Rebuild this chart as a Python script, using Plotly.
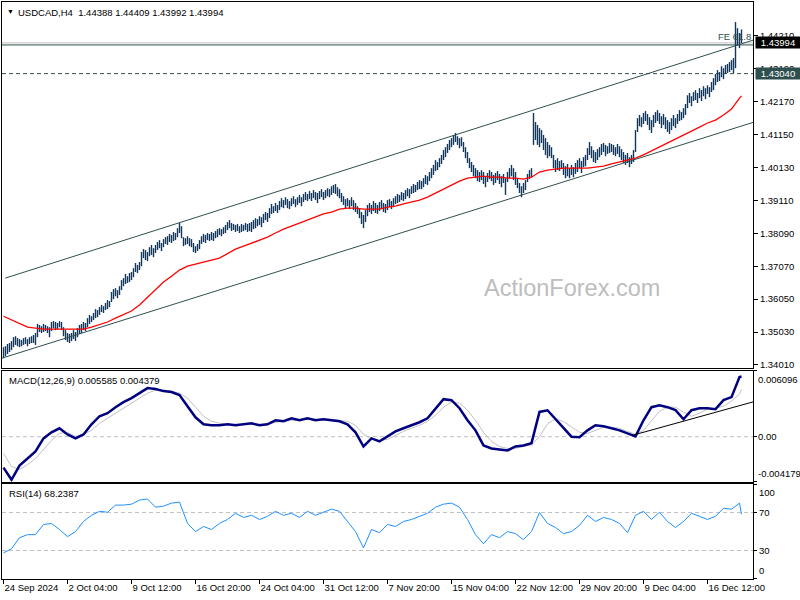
import plotly.graph_objects as go

# ---------------- data ----------------
highs = [
    1.3456, 1.3459, 1.3466, 1.3469, 1.3475, 1.3487, 1.3490, 1.3484, 1.3481, 1.3478,
    1.3484, 1.3487, 1.3481, 1.3487, 1.3490, 1.3494, 1.3500, 1.3528, 1.3525, 1.3521,
    1.3528, 1.3525, 1.3521, 1.3518, 1.3534, 1.3537, 1.3534, 1.3531, 1.3537, 1.3534,
    1.3518, 1.3509, 1.3500, 1.3497, 1.3500, 1.3509, 1.3503, 1.3515, 1.3525, 1.3528,
    1.3534, 1.3531, 1.3546, 1.3556, 1.3552, 1.3562, 1.3574, 1.3571, 1.3580, 1.3587,
    1.3583, 1.3593, 1.3602, 1.3599, 1.3627, 1.3636, 1.3639, 1.3633, 1.3645, 1.3664,
    1.3670, 1.3683, 1.3676, 1.3686, 1.3689, 1.3701, 1.3717, 1.3711, 1.3720, 1.3751,
    1.3760, 1.3757, 1.3751, 1.3766, 1.3773, 1.3763, 1.3773, 1.3782, 1.3788, 1.3779,
    1.3791, 1.3797, 1.3800, 1.3807, 1.3804, 1.3813, 1.3810, 1.3825, 1.3841, 1.3831,
    1.3797, 1.3794, 1.3800, 1.3794, 1.3791, 1.3779, 1.3769, 1.3776, 1.3788, 1.3800,
    1.3807, 1.3804, 1.3810, 1.3807, 1.3813, 1.3810, 1.3816, 1.3822, 1.3825, 1.3822,
    1.3828, 1.3835, 1.3844, 1.3850, 1.3841, 1.3838, 1.3835, 1.3838, 1.3831, 1.3838,
    1.3835, 1.3841, 1.3838, 1.3841, 1.3844, 1.3850, 1.3856, 1.3853, 1.3862, 1.3859,
    1.3869, 1.3875, 1.3872, 1.3887, 1.3900, 1.3893, 1.3903, 1.3897, 1.3909, 1.3918,
    1.3912, 1.3921, 1.3915, 1.3909, 1.3918, 1.3924, 1.3915, 1.3921, 1.3928, 1.3921,
    1.3931, 1.3937, 1.3931, 1.3940, 1.3934, 1.3943, 1.3937, 1.3934, 1.3940, 1.3946,
    1.3937, 1.3943, 1.3949, 1.3946, 1.3955, 1.3959, 1.3962, 1.3952, 1.3946, 1.3934,
    1.3924, 1.3915, 1.3918, 1.3912, 1.3921, 1.3912, 1.3903, 1.3893, 1.3887, 1.3875,
    1.3866, 1.3881, 1.3897, 1.3903, 1.3897, 1.3909, 1.3903, 1.3897, 1.3906, 1.3912,
    1.3903, 1.3900, 1.3912, 1.3915, 1.3909, 1.3918, 1.3924, 1.3931, 1.3928, 1.3937,
    1.3934, 1.3943, 1.3949, 1.3946, 1.3955, 1.3962, 1.3959, 1.3968, 1.3974, 1.3971,
    1.3980, 1.3990, 1.3986, 1.3999, 1.4011, 1.4021, 1.4036, 1.4030, 1.4042, 1.4052,
    1.4067, 1.4076, 1.4086, 1.4098, 1.4104, 1.4114, 1.4120, 1.4110, 1.4104, 1.4107,
    1.4092, 1.4076, 1.4061, 1.4042, 1.4030, 1.4021, 1.4011, 1.4005, 1.3999, 1.4005,
    1.3999, 1.3986, 1.3996, 1.4005, 1.3999, 1.3990, 1.3996, 1.4002, 1.3993, 1.3986,
    1.3993, 1.3980, 1.3999, 1.4011, 1.4021, 1.4011, 1.3999, 1.3980, 1.3965, 1.3955,
    1.3965, 1.3974, 1.3993, 1.4005, 1.4011, 1.4182, 1.4154, 1.4145, 1.4135, 1.4129,
    1.4114, 1.4104, 1.4092, 1.4083, 1.4076, 1.4052, 1.4036, 1.4042, 1.4033, 1.4036,
    1.4027, 1.4017, 1.4024, 1.4011, 1.4021, 1.4014, 1.4027, 1.4036, 1.4042, 1.4033,
    1.4045, 1.4052, 1.4073, 1.4092, 1.4079, 1.4067, 1.4061, 1.4070, 1.4076, 1.4086,
    1.4089, 1.4083, 1.4079, 1.4089, 1.4086, 1.4083, 1.4076, 1.4086, 1.4079, 1.4070,
    1.4061, 1.4052, 1.4058, 1.4045, 1.4052, 1.4067, 1.4129, 1.4166, 1.4176, 1.4169,
    1.4182, 1.4188, 1.4179, 1.4169, 1.4160, 1.4176, 1.4185, 1.4191, 1.4182, 1.4172,
    1.4179, 1.4169, 1.4160, 1.4154, 1.4166, 1.4176, 1.4166, 1.4179, 1.4191, 1.4185,
    1.4197, 1.4210, 1.4237, 1.4244, 1.4234, 1.4247, 1.4253, 1.4244, 1.4259, 1.4253,
    1.4265, 1.4259, 1.4268, 1.4262, 1.4278, 1.4290, 1.4303, 1.4315, 1.4309, 1.4327,
    1.4321, 1.4331, 1.4334, 1.4340, 1.4346, 1.4352, 1.4464, 1.4445, 1.4430, 1.44409,
]
lows = [
    1.3422, 1.3428, 1.3435, 1.3441, 1.3447, 1.3456, 1.3463, 1.3459, 1.3456, 1.3459,
    1.3463, 1.3466, 1.3459, 1.3466, 1.3469, 1.3469, 1.3463, 1.3487, 1.3503, 1.3500,
    1.3503, 1.3506, 1.3500, 1.3487, 1.3506, 1.3515, 1.3509, 1.3512, 1.3518, 1.3509,
    1.3490, 1.3478, 1.3472, 1.3469, 1.3475, 1.3481, 1.3475, 1.3487, 1.3497, 1.3500,
    1.3509, 1.3506, 1.3518, 1.3528, 1.3534, 1.3540, 1.3546, 1.3549, 1.3556, 1.3565,
    1.3562, 1.3571, 1.3574, 1.3580, 1.3596, 1.3605, 1.3614, 1.3608, 1.3618, 1.3633,
    1.3645, 1.3652, 1.3655, 1.3658, 1.3664, 1.3673, 1.3689, 1.3686, 1.3695, 1.3707,
    1.3732, 1.3726, 1.3723, 1.3738, 1.3742, 1.3735, 1.3748, 1.3757, 1.3763, 1.3754,
    1.3766, 1.3776, 1.3773, 1.3782, 1.3779, 1.3785, 1.3788, 1.3797, 1.3810, 1.3794,
    1.3769, 1.3773, 1.3776, 1.3769, 1.3766, 1.3751, 1.3748, 1.3754, 1.3760, 1.3776,
    1.3782, 1.3779, 1.3788, 1.3785, 1.3788, 1.3785, 1.3794, 1.3797, 1.3804, 1.3800,
    1.3807, 1.3810, 1.3819, 1.3825, 1.3816, 1.3819, 1.3813, 1.3816, 1.3810, 1.3813,
    1.3816, 1.3819, 1.3813, 1.3816, 1.3813, 1.3822, 1.3825, 1.3831, 1.3835, 1.3828,
    1.3841, 1.3850, 1.3844, 1.3856, 1.3869, 1.3872, 1.3878, 1.3872, 1.3881, 1.3890,
    1.3887, 1.3897, 1.3887, 1.3884, 1.3893, 1.3900, 1.3890, 1.3897, 1.3903, 1.3893,
    1.3906, 1.3912, 1.3909, 1.3915, 1.3909, 1.3918, 1.3912, 1.3903, 1.3915, 1.3921,
    1.3912, 1.3918, 1.3924, 1.3921, 1.3928, 1.3934, 1.3931, 1.3924, 1.3918, 1.3906,
    1.3897, 1.3887, 1.3893, 1.3884, 1.3893, 1.3881, 1.3875, 1.3869, 1.3856, 1.3838,
    1.3825, 1.3844, 1.3862, 1.3875, 1.3869, 1.3878, 1.3872, 1.3869, 1.3878, 1.3884,
    1.3875, 1.3872, 1.3881, 1.3890, 1.3884, 1.3890, 1.3900, 1.3903, 1.3906, 1.3912,
    1.3909, 1.3915, 1.3924, 1.3918, 1.3931, 1.3934, 1.3937, 1.3943, 1.3946, 1.3946,
    1.3952, 1.3962, 1.3959, 1.3971, 1.3980, 1.3990, 1.4002, 1.4005, 1.4014, 1.4024,
    1.4036, 1.4045, 1.4058, 1.4067, 1.4076, 1.4083, 1.4092, 1.4083, 1.4073, 1.4079,
    1.4061, 1.4042, 1.4027, 1.4011, 1.3999, 1.3986, 1.3980, 1.3971, 1.3968, 1.3974,
    1.3962, 1.3952, 1.3968, 1.3977, 1.3971, 1.3959, 1.3965, 1.3974, 1.3962, 1.3952,
    1.3965, 1.3928, 1.3968, 1.3980, 1.3986, 1.3974, 1.3959, 1.3949, 1.3934, 1.3921,
    1.3934, 1.3943, 1.3968, 1.3977, 1.3983, 1.4083, 1.4098, 1.4083, 1.4076, 1.4089,
    1.4067, 1.4052, 1.4042, 1.4048, 1.4042, 1.4011, 1.3999, 1.4005, 1.4002, 1.4008,
    1.3990, 1.3980, 1.3986, 1.3980, 1.3990, 1.3983, 1.3993, 1.3999, 1.4011, 1.3996,
    1.4014, 1.4017, 1.4036, 1.4052, 1.4042, 1.4030, 1.4027, 1.4036, 1.4045, 1.4052,
    1.4061, 1.4048, 1.4055, 1.4058, 1.4061, 1.4052, 1.4048, 1.4055, 1.4045, 1.4036,
    1.4027, 1.4021, 1.4027, 1.4014, 1.4024, 1.4030, 1.4061, 1.4123, 1.4141, 1.4138,
    1.4148, 1.4157, 1.4145, 1.4129, 1.4120, 1.4138, 1.4151, 1.4157, 1.4148, 1.4135,
    1.4145, 1.4132, 1.4123, 1.4117, 1.4129, 1.4141, 1.4135, 1.4148, 1.4157, 1.4160,
    1.4166, 1.4176, 1.4197, 1.4213, 1.4203, 1.4219, 1.4222, 1.4213, 1.4228, 1.4219,
    1.4234, 1.4225, 1.4241, 1.4231, 1.4247, 1.4253, 1.4268, 1.4278, 1.4281, 1.4293,
    1.4287, 1.4303, 1.4306, 1.4309, 1.4315, 1.4306, 1.4321, 1.4392, 1.4383, 1.43992,
]

# indicator readings, one every 4 bars plus the last bar
ind_idx = list(range(0, 369, 4)) + [369]
ma_vals = [
    1.3552, 1.3540, 1.3528, 1.3518, 1.3515, 1.3512, 1.3512, 1.3512, 1.3512, 1.3512,
    1.3512, 1.3518, 1.3525, 1.3534, 1.3546, 1.3556, 1.3568, 1.3587, 1.3611, 1.3636,
    1.3658, 1.3676, 1.3695, 1.3707, 1.3714, 1.3720, 1.3726, 1.3732, 1.3745, 1.3760,
    1.3769, 1.3779, 1.3788, 1.3797, 1.3810, 1.3822, 1.3831, 1.3841, 1.3850, 1.3859,
    1.3869, 1.3875, 1.3884, 1.3887, 1.3887, 1.3884, 1.3884, 1.3884, 1.3890, 1.3893,
    1.3900, 1.3906, 1.3912, 1.3921, 1.3934, 1.3946, 1.3959, 1.3971, 1.3980, 1.3983,
    1.3986, 1.3983, 1.3983, 1.3980, 1.3980, 1.3977, 1.3983, 1.3999, 1.4005, 1.4008,
    1.4011, 1.4011, 1.4011, 1.4011, 1.4014, 1.4017, 1.4024, 1.4030, 1.4036, 1.4042,
    1.4052, 1.4064, 1.4076, 1.4089, 1.4101, 1.4114, 1.4126, 1.4138, 1.4151, 1.4160,
    1.4176, 1.4194, 1.4228, 1.4235,
]
macd_vals = [
    -0.00287, -0.00400, -0.00268, -0.00203, -0.00137, -0.00016, 0.00040, 0.00078, 0.00021, -0.00016,
    0.00021, 0.00115, 0.00190, 0.00218, 0.00274, 0.00320, 0.00358, 0.00404, 0.00451, 0.00442,
    0.00423, 0.00414, 0.00386, 0.00283, 0.00180, 0.00115, 0.00106, 0.00106, 0.00115, 0.00106,
    0.00115, 0.00124, 0.00106, 0.00115, 0.00152, 0.00143, 0.00171, 0.00152, 0.00171, 0.00152,
    0.00162, 0.00152, 0.00143, 0.00115, 0.00040, -0.00091, -0.00016, -0.00044, 0.00003, 0.00049,
    0.00078, 0.00106, 0.00134, 0.00171, 0.00264, 0.00348, 0.00339, 0.00264, 0.00152, 0.00059,
    -0.00081, -0.00109, -0.00119, -0.00128, -0.00091, -0.00081, -0.00060, 0.00230, 0.00245, 0.00160,
    0.00075, 0.00000, -0.00005, 0.00059, 0.00106, 0.00096, 0.00078, 0.00059, 0.00031, 0.00003,
    0.00152, 0.00274, 0.00292, 0.00274, 0.00246, 0.00162, 0.00246, 0.00264, 0.00264, 0.00255,
    0.00339, 0.00367, 0.00554, 0.005585,
]
signal_vals = [
    -0.00156, -0.00277, -0.00305, -0.00259, -0.00203, -0.00119, -0.00035, 0.00031, 0.00040, 0.00003,
    0.00021, 0.00059, 0.00124, 0.00171, 0.00218, 0.00264, 0.00311, 0.00358, 0.00404, 0.00432,
    0.00432, 0.00423, 0.00404, 0.00358, 0.00274, 0.00190, 0.00143, 0.00124, 0.00115, 0.00115,
    0.00115, 0.00115, 0.00115, 0.00115, 0.00134, 0.00143, 0.00152, 0.00152, 0.00162, 0.00162,
    0.00162, 0.00162, 0.00152, 0.00143, 0.00106, 0.00021, -0.00016, -0.00035, -0.00025, 0.00012,
    0.00049, 0.00078, 0.00106, 0.00143, 0.00199, 0.00274, 0.00320, 0.00311, 0.00246, 0.00152,
    0.00040, -0.00044, -0.00091, -0.00109, -0.00109, -0.00091, -0.00075, 0.00000, 0.00120, 0.00165,
    0.00140, 0.00090, 0.00040, 0.00031, 0.00059, 0.00087, 0.00087, 0.00078, 0.00049, 0.00021,
    0.00059, 0.00152, 0.00236, 0.00274, 0.00274, 0.00227, 0.00190, 0.00218, 0.00255, 0.00264,
    0.00283, 0.00330, 0.00395, 0.004379,
]
rsi_vals = [
    27.5, 31.8, 43.5, 46.7, 46.7, 57.4, 58.5, 52.1, 44.6, 49.9,
    60.6, 67.1, 71.3, 70.3, 77.8, 77.8, 78.8, 83.1, 84.2, 75.6,
    76.7, 79.9, 81.0, 58.5, 49.9, 55.3, 52.1, 58.5, 62.7, 69.2,
    64.8, 67.1, 62.7, 66.0, 71.3, 67.1, 69.2, 64.8, 71.3, 67.1,
    70.3, 73.5, 71.3, 60.6, 49.9, 32.8, 52.1, 48.8, 57.4, 55.3,
    60.6, 62.7, 66.0, 69.2, 75.6, 78.8, 79.9, 75.6, 62.7, 46.7,
    37.1, 46.7, 43.5, 49.9, 47.8, 41.4, 50.0, 70.0, 58.5, 54.2,
    47.8, 49.9, 56.4, 67.1, 60.6, 64.8, 62.7, 58.5, 48.8, 67.1,
    71.3, 62.7, 70.3, 60.6, 54.2, 60.6, 69.2, 66.0, 62.7, 66.0,
    74.5, 73.5, 79.9, 68.24,
]

# drawn objects (trend lines / levels)
upper_channel_idx = [0.85, 374.85]
upper_channel_px = [1.3670, 1.4408]
lower_channel_idx = [-0.75, 374.85]
lower_channel_px = [1.3422, 1.4153]
macd_trend_idx = [314.35, 374.85]
macd_trend_val = [0.00012, 0.00323]
last_price = 1.43994
fe_level = 1.4393
resist_level = 1.43040

time_tick_idx = [0, 32, 64, 96, 128, 160, 192, 224, 256, 288, 320, 352]
time_tick_text = ["24 Sep 2024", "2 Oct 04:00", "9 Oct 12:00", "16 Oct 20:00",
                  "24 Oct 04:00", "31 Oct 12:00", "7 Nov 20:00", "15 Nov 04:00",
                  "22 Nov 12:00", "29 Nov 20:00", "9 Dec 04:00", "16 Dec 12:00"]
price_ticks = [1.34010, 1.35030, 1.36050, 1.37070, 1.38090, 1.39110,
               1.40130, 1.41150, 1.42170, 1.43190, 1.44210]
macd_axis = [-0.004179, 0.006096]

# ---------------- styling ----------------
FONT = "Liberation Sans"
FS = 9.5
BAR_COLOR = "#12375a"
SLATE = "#2f4f4f"
GRID = "#c0c0c0"

fig = go.Figure()

# high-low bars drawn as vertical segments
seg_x, seg_y = [], []
for i, (h, l) in enumerate(zip(highs, lows)):
    seg_x += [i, i, None]
    seg_y += [l, h, None]
fig.add_trace(go.Scatter(x=seg_x, y=seg_y, mode="lines", connectgaps=False,
                         line=dict(color=BAR_COLOR, width=1.4), xaxis="x", yaxis="y",
                         hoverinfo="skip"))
fig.add_trace(go.Scatter(x=ind_idx, y=ma_vals, mode="lines",
                         line=dict(color="#ff0000", width=1.3), xaxis="x", yaxis="y"))
fig.add_trace(go.Scatter(x=upper_channel_idx, y=upper_channel_px, mode="lines",
                         line=dict(color=SLATE, width=1), xaxis="x", yaxis="y"))
fig.add_trace(go.Scatter(x=lower_channel_idx, y=lower_channel_px, mode="lines",
                         line=dict(color=SLATE, width=1), xaxis="x", yaxis="y"))

fig.add_trace(go.Scatter(x=ind_idx, y=signal_vals, mode="lines",
                         line=dict(color=GRID, width=1), xaxis="x2", yaxis="y2"))
fig.add_trace(go.Scatter(x=ind_idx, y=macd_vals, mode="lines",
                         line=dict(color="#000080", width=2.5), xaxis="x2", yaxis="y2"))
fig.add_trace(go.Scatter(x=macd_trend_idx, y=macd_trend_val, mode="lines",
                         line=dict(color="black", width=1), xaxis="x2", yaxis="y2"))

fig.add_trace(go.Scatter(x=ind_idx, y=rsi_vals, mode="lines",
                         line=dict(color="#1e90ff", width=1), xaxis="x3", yaxis="y3"))

# horizontal levels
shapes = [
    dict(type="line", xref="x domain", yref="y", x0=0, x1=1, y0=last_price, y1=last_price,
         line=dict(color=GRID, width=1), layer="below"),
    dict(type="line", xref="x domain", yref="y", x0=0, x1=1, y0=fe_level, y1=fe_level,
         line=dict(color=SLATE, width=1), layer="below"),
    dict(type="line", xref="x domain", yref="y", x0=0, x1=1, y0=resist_level, y1=resist_level,
         line=dict(color=SLATE, width=1, dash="4px,3px"), layer="below"),
    dict(type="line", xref="x2 domain", yref="y2", x0=0, x1=1, y0=0, y1=0,
         line=dict(color=GRID, width=1, dash="4px,3px"), layer="below"),
    dict(type="line", xref="x3 domain", yref="y3", x0=0, x1=1, y0=70, y1=70,
         line=dict(color=GRID, width=1, dash="4px,3px"), layer="below"),
    dict(type="line", xref="x3 domain", yref="y3", x0=0, x1=1, y0=30, y1=30,
         line=dict(color=GRID, width=1, dash="4px,3px"), layer="below"),
]

def lab(text, x, y, xref="paper", yref="paper", xanchor="left", yanchor="middle",
        xshift=0, yshift=0, color="black", size=FS, **kw):
    return dict(text=text, x=x, y=y, xref=xref, yref=yref, xanchor=xanchor,
                yanchor=yanchor, xshift=xshift, yshift=yshift, showarrow=False,
                font=dict(family=FONT, size=size, color=color), **kw)

annotations = [
    lab("\u25BC", 0, 1, yanchor="top", xshift=3, yshift=-4, size=7),
    lab("USDCAD,H4  1.44388 1.44409 1.43992 1.43994", 0, 1, yanchor="top", xshift=14, yshift=-3),
    lab("FE 61.8", 1, fe_level, yref="y", xanchor="right", yanchor="bottom", yshift=1, color=SLATE),
    lab("1.43994", 1, last_price, yref="y", xshift=2, color="white", bgcolor="black",
        borderpad=0, height=11, width=44, align="center"),
    lab("1.43040", 1, resist_level, yref="y", xshift=2, color="white", bgcolor=SLATE,
        borderpad=0, height=11, width=44, align="center"),
    lab("MACD(12,26,9) 0.005585 0.004379", 0, 1, yref="y2 domain", yanchor="top", xshift=5, yshift=-2),
    lab("0.006096", 1, macd_axis[1], yref="y2", yanchor="top", xshift=3, yshift=-1),
    lab("0.00", 1, 0, yref="y2", xshift=3),
    lab("-0.004179", 1, macd_axis[0], yref="y2", yanchor="bottom", xshift=3, yshift=1),
    lab("RSI(14) 68.2387", 0, 1, yref="y3 domain", yanchor="top", xshift=5, yshift=-2),
    lab("100", 1, 100, yref="y3", yanchor="top", xshift=4, yshift=-1),
    lab("70", 1, 70, yref="y3", xshift=4),
    lab("30", 1, 30, yref="y3", xshift=4),
    lab("0", 1, 0, yref="y3", yanchor="bottom", xshift=4, yshift=1),
    lab("ActionForex.com", 284.4, 1.3640, xref="x", yref="y", xanchor="center",
        color="#bdbdbd", size=23.5),
]

axis_common = dict(showgrid=False, zeroline=False, showline=True, mirror=True,
                   linecolor="black", linewidth=1, automargin=False)

fig.update_layout(
    width=800, height=600,
    margin=dict(l=2, r=47, t=2, b=21, autoexpand=False),
    paper_bgcolor="white", plot_bgcolor="white", showlegend=False,
    font=dict(family=FONT, size=FS, color="black"),
    shapes=shapes, annotations=annotations,
    xaxis=dict(domain=[0, 1], anchor="y", range=[-0.75, 374.75], showticklabels=False,
               ticks="", **axis_common),
    yaxis=dict(domain=[0.3657, 1], anchor="x", side="right", range=[1.33915, 1.45261],
               tickvals=price_ticks, tickformat=".5f", ticks="outside", ticklen=4,
               tickcolor="black", tickfont=dict(family=FONT, size=FS, color="black"),
               **axis_common),
    xaxis2=dict(domain=[0, 1], anchor="y2", matches="x", showticklabels=False, ticks="",
                **axis_common),
    yaxis2=dict(domain=[0.1686, 0.3605], anchor="x2", side="right", range=macd_axis,
                showticklabels=False, tickvals=[macd_axis[1], 0, macd_axis[0]],
                ticks="outside", ticklen=3, tickcolor="black", **axis_common),
    xaxis3=dict(domain=[0, 1], anchor="y3", matches="x", tickvals=time_tick_idx,
                ticktext=time_tick_text, ticks="outside", ticklen=4, tickcolor="black",
                ticklabelposition="outside right", tickangle=0,
                tickfont=dict(family=FONT, size=FS, color="black"), **axis_common),
    yaxis3=dict(domain=[0, 0.1646], anchor="x3", side="right", range=[0, 100],
                showticklabels=False, tickvals=[100, 70, 30, 0], ticks="outside",
                ticklen=3, tickcolor="black", **axis_common),
)

fig.write_html("out.html", config={"displayModeBar": False},
               post_script="document.body.style.margin='0px';")
